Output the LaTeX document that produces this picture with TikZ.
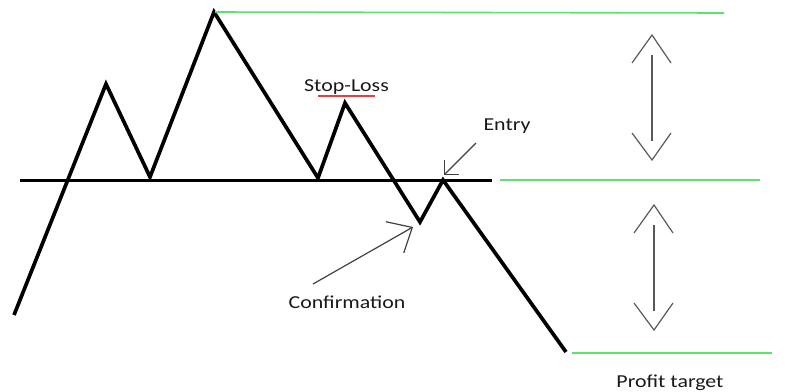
\documentclass[tikz,border=0pt]{standalone}
\usepackage{fontspec}
\usetikzlibrary{arrows.meta,positioning,calc}
\newfontfamily\labelfont{Carlito}[FakeStretch=1.2]
\definecolor{targetgreen}{HTML}{5BE36B}
\definecolor{stopred}{HTML}{EE3B3B}
\definecolor{notegray}{HTML}{404040}
\tikzset{
  price/.style={line width=3.7pt, black, line join=miter},
  neck/.style={line width=3pt, black},
  target/.style={line width=1.6pt, targetgreen},
  note/.style={font=\labelfont\fontsize{18.3}{20}\selectfont, text=black!90, inner sep=0pt, anchor=base},
  pointer/.style={-{Straight Barb[length=20bp,width=36bp,line width=1.2pt]}, line width=1.2pt, notegray},
  smallpointer/.style={-{Straight Barb[length=10bp,width=20bp,line width=1.2pt]}, line width=1.2pt, notegray},
  rangeline/.style={line width=1.5pt, black!65},
  chevron/.style={line width=1.2pt, black!65}
}
\begin{document}
\begin{tikzpicture}[x=1bp, y=-1bp]
\useasboundingbox (0,0) rectangle (799,391);
% price path
\coordinate (start) at (14,315);
\coordinate (lshoulder) at (106,84);
\coordinate (ltrough) at (150,177);
\coordinate (head) at (214,12);
\coordinate (rtrough) at (318,178);
\coordinate (rshoulder) at (345,103);
\coordinate (dip) at (420,222);
\coordinate (retest) at (443,180);
\coordinate (finish) at (566,352);
\draw[price] (start) -- (lshoulder) -- (ltrough) -- (head) -- (rtrough) -- (rshoulder) -- (dip) -- (retest) -- (finish);
% neckline
\coordinate (neckL) at (20,180);
\coordinate (neckR) at (492,180);
\draw[neck] (neckL) -- (neckR);
% target levels
\coordinate (topR) at (724,13);
\coordinate (midL) at (500,180);
\coordinate (midR) at (760,180);
\coordinate (lowL) at (572,353);
\coordinate (lowR) at (772,353);
\draw[target] ([xshift=1bp]head) -- (topR);
\draw[target] (midL) -- (midR);
\draw[target] (lowL) -- (lowR);
% labels
\node[note] (stoploss) at (346.5,91) {Stop-Loss};
\node[note] (entry) at (507,130) {Entry};
\node[note] (confirm) at (347,308) {Confirmation};
\node[note] (profit) at (670,387) {Profit target};
\coordinate (ulL) at (318,96);
\coordinate (ulR) at (375,96);
\draw[stopred, line width=2pt] (ulL) -- (ulR);
% pointers
\coordinate (entryfrom) at (476,143);
\coordinate (entrytip) at (444,175);
\draw[smallpointer] (entryfrom) -- (entrytip);
\coordinate (confirmfrom) at (313,284);
\coordinate (confirmtip) at (413,227);
\draw[pointer] (confirmfrom) -- (confirmtip);
% range arrows
\foreach \x/\top/\bot [count=\i] in {652/35/160, 654/205/330} {
  \coordinate (up\i) at (\x,\top);
  \coordinate (down\i) at (\x,\bot);
  \draw[rangeline] ($(up\i)+(0,20)$) -- ($(down\i)+(0,-19)$);
  \draw[chevron] ($(up\i)+(-20,28)$) -- (up\i) -- ($(up\i)+(19,28)$);
  \draw[chevron] ($(down\i)+(-20,-27)$) -- (down\i) -- ($(down\i)+(19,-27)$);
}
\end{tikzpicture}
\end{document}
